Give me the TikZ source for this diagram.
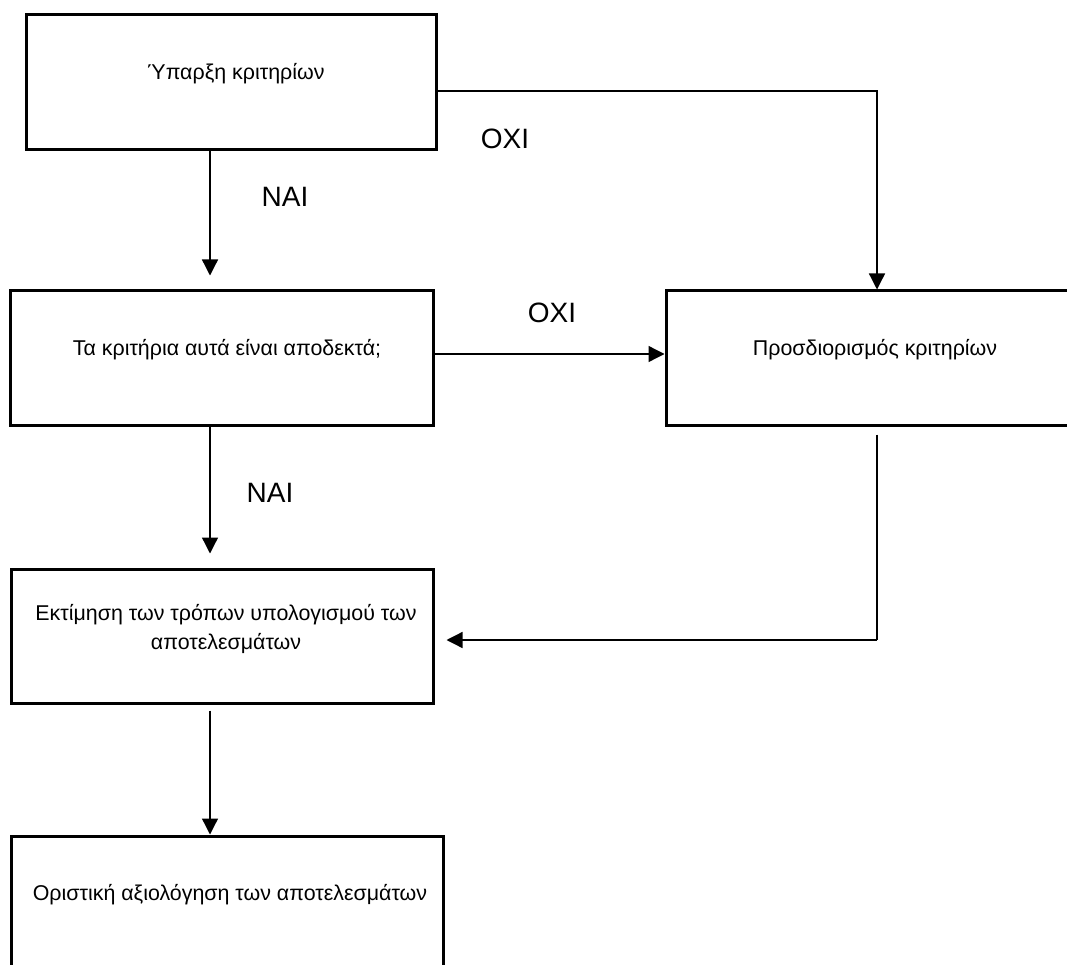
\documentclass[tikz,border=0pt]{standalone}
\usepackage{fontspec}
\setmainfont{Liberation Sans}
\usetikzlibrary{arrows.meta,calc}
\begin{document}
\begin{tikzpicture}[x=1pt,y=-1pt,
  box/.style={draw,line width=3pt,inner sep=0pt},
  txt/.style={font=\fontsize{21.4}{29}\selectfont,align=center,inner sep=0pt},
  lbl/.style={font=\fontsize{28}{30}\selectfont,inner sep=0pt},
  conn/.style={line width=1.3pt,-{Triangle[length=16pt,width=16pt]}},
  plain/.style={line width=1.3pt}]
\useasboundingbox (0,0) rectangle (1067,965);
\node[box,minimum width=410pt,minimum height=135pt] (b1) at (231,82.5) {};
\node[box,minimum width=423pt,minimum height=134pt] (b2) at (221.5,358) {};
\node[box,minimum width=420pt,minimum height=134pt] (b3) at (876,358) {};
\node[box,minimum width=422pt,minimum height=134pt] (b4) at (222,636) {};
\node[box,minimum width=432pt,minimum height=180pt] (b5) at (227,926) {};
\node[txt] (t1) at (236,74) {Ύπαρξη κριτηρίων};
\node[txt] (t2) at (227,350) {Τα κριτήρια αυτά είναι αποδεκτά;};
\node[txt] (t3) at (875,350) {Προσδιορισμός κριτηρίων};
\node[txt] (t4) at (226,629) {Εκτίμηση των τρόπων υπολογισμού των\\αποτελεσμάτων};
\node[txt] (t5) at (230,895) {Οριστική αξιολόγηση των αποτελεσμάτων};
\node[lbl] (n1) at (285,197) {NAI};
\node[lbl] (n2) at (270,493) {NAI};
\node[lbl] (o1) at (505,139) {OXI};
\node[lbl] (o2) at (552,313) {OXI};
\coordinate (xa) at (210,0);
\coordinate (xb) at (877,0);
\coordinate (ya) at (0,91);
\coordinate (yb) at (0,354);
\coordinate (yc) at (0,640);
\coordinate (k1) at (xb |- ya);
\coordinate (k2) at (xb |- yc);
\draw[conn,shorten >=14pt] (b1.south -| xa) -- (b2.north -| xa);
\draw[conn,shorten >=14pt] (b2.south -| xa) -- (b4.north -| xa);
\draw[conn] (b1.east |- ya) -- (k1) -- (b3.north -| xb);
\draw[conn] (b2.east |- yb) -- (b3.west |- yb);
\draw[plain,shorten <=8pt] (b3.south -| xb) -- (k2);
\draw[conn,shorten >=12pt] (k2) -- (b4.east |- yc);
\draw[conn,shorten <=6pt] (b4.south -| xa) -- (b5.north -| xa);
\end{tikzpicture}
\end{document}
